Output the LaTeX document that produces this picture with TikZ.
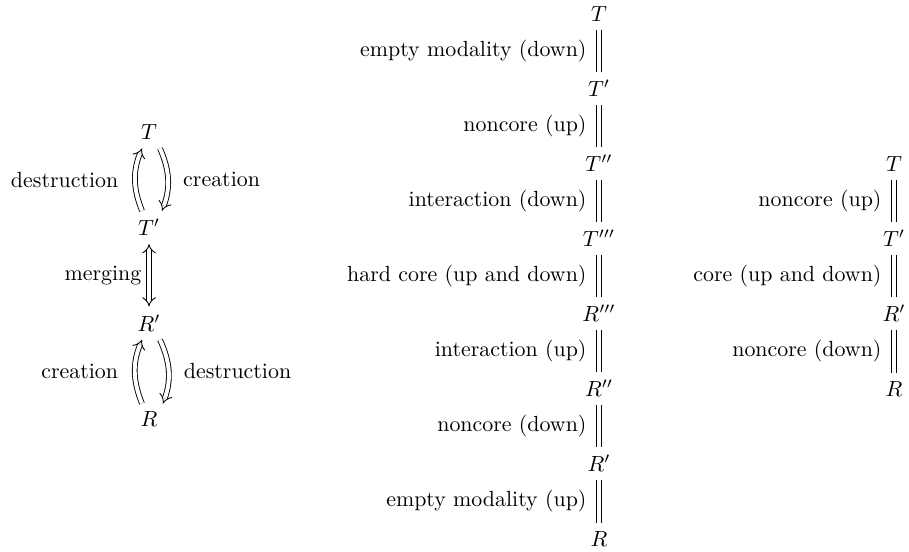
\documentclass[tikz,border=0pt]{standalone}
\usetikzlibrary{arrows.meta}
\begin{document}
\begin{tikzpicture}[x=0.4566pt,y=-0.4566pt,
  obj/.style={anchor=base, inner xsep=1ex, inner ysep=0.85ex},
  eqline/.style={double, double distance=1.8pt, line width=0.4pt},
  imp/.style={double, double distance=1.8pt, line width=0.4pt, -{Implies}},
  lab/.style={midway, left, inner sep=3.33pt, xshift=-2.2pt},
  mlab/.style={midway, left, inner sep=3.33pt},
  cl/.style={midway, left, inner sep=3.33pt, xshift=-4.2pt},
  cr/.style={midway, right, inner sep=3.33pt, xshift=3.5pt}]
\useasboundingbox (0,0) rectangle (909,552);
% left diagram
\node[obj] (lT)  at (149,140)   {$T$};
\node[obj] (lT1) at (149,235.7) {$T'$};
\node[obj] (lR1) at (149,331.3) {$R'$};
\node[obj] (lR)  at (149,427)   {$R$};
\draw[imp] ([shift={(-7,0)}]lT1.north) to[bend left=22] node[cl] {destruction} ([shift={(-7,0)}]lT.south);
\draw[imp] ([shift={(11,0)}]lT.south) to[bend left=22] node[cr] {creation} ([shift={(13,0)}]lT1.north);
\draw[imp, {Implies}-{Implies}] (lT1) -- node[mlab] {merging} (lR1);
\draw[imp] ([shift={(-7,0)}]lR.north) to[bend left=22] node[cl] {creation} ([shift={(-7,0)}]lR1.south);
\draw[imp] ([shift={(11,0)}]lR1.south) to[bend left=22] node[cr] {destruction} ([shift={(14,0)}]lR.north);
% middle column
\node[obj] (mT)   at (599,21.5)  {$T$};
\node[obj] (mT1)  at (599,96.5)  {$T'$};
\node[obj] (mT2)  at (599,171.5) {$T''$};
\node[obj] (mT3)  at (599,246.5) {$T'''$};
\node[obj] (mR3)  at (599,321.5) {$R'''$};
\node[obj] (mR2)  at (599,396.5) {$R''$};
\node[obj] (mR1)  at (599,471.5) {$R'$};
\node[obj] (mR)   at (599,546.5) {$R$};
\draw[eqline] (mT) -- node[lab] {empty modality (down)} (mT1);
\draw[eqline] (mT1) -- node[lab] {noncore (up)} (mT2);
\draw[eqline] (mT2) -- node[lab] {interaction (down)} (mT3);
\draw[eqline] (mT3) -- node[lab] {hard core (up and down)} (mR3);
\draw[eqline] (mR3) -- node[lab] {interaction (up)} (mR2);
\draw[eqline] (mR2) -- node[lab] {noncore (down)} (mR1);
\draw[eqline] (mR1) -- node[lab] {empty modality (up)} (mR);
% right column
\node[obj] (rT)  at (894,171.5) {$T$};
\node[obj] (rT1) at (894,246.5) {$T'$};
\node[obj] (rR1) at (894,321.5) {$R'$};
\node[obj] (rR)  at (894,396.5) {$R$};
\draw[eqline] (rT) -- node[lab] {noncore (up)} (rT1);
\draw[eqline] (rT1) -- node[lab] {core (up and down)} (rR1);
\draw[eqline] (rR1) -- node[lab] {noncore (down)} (rR);
\end{tikzpicture}
\end{document}
